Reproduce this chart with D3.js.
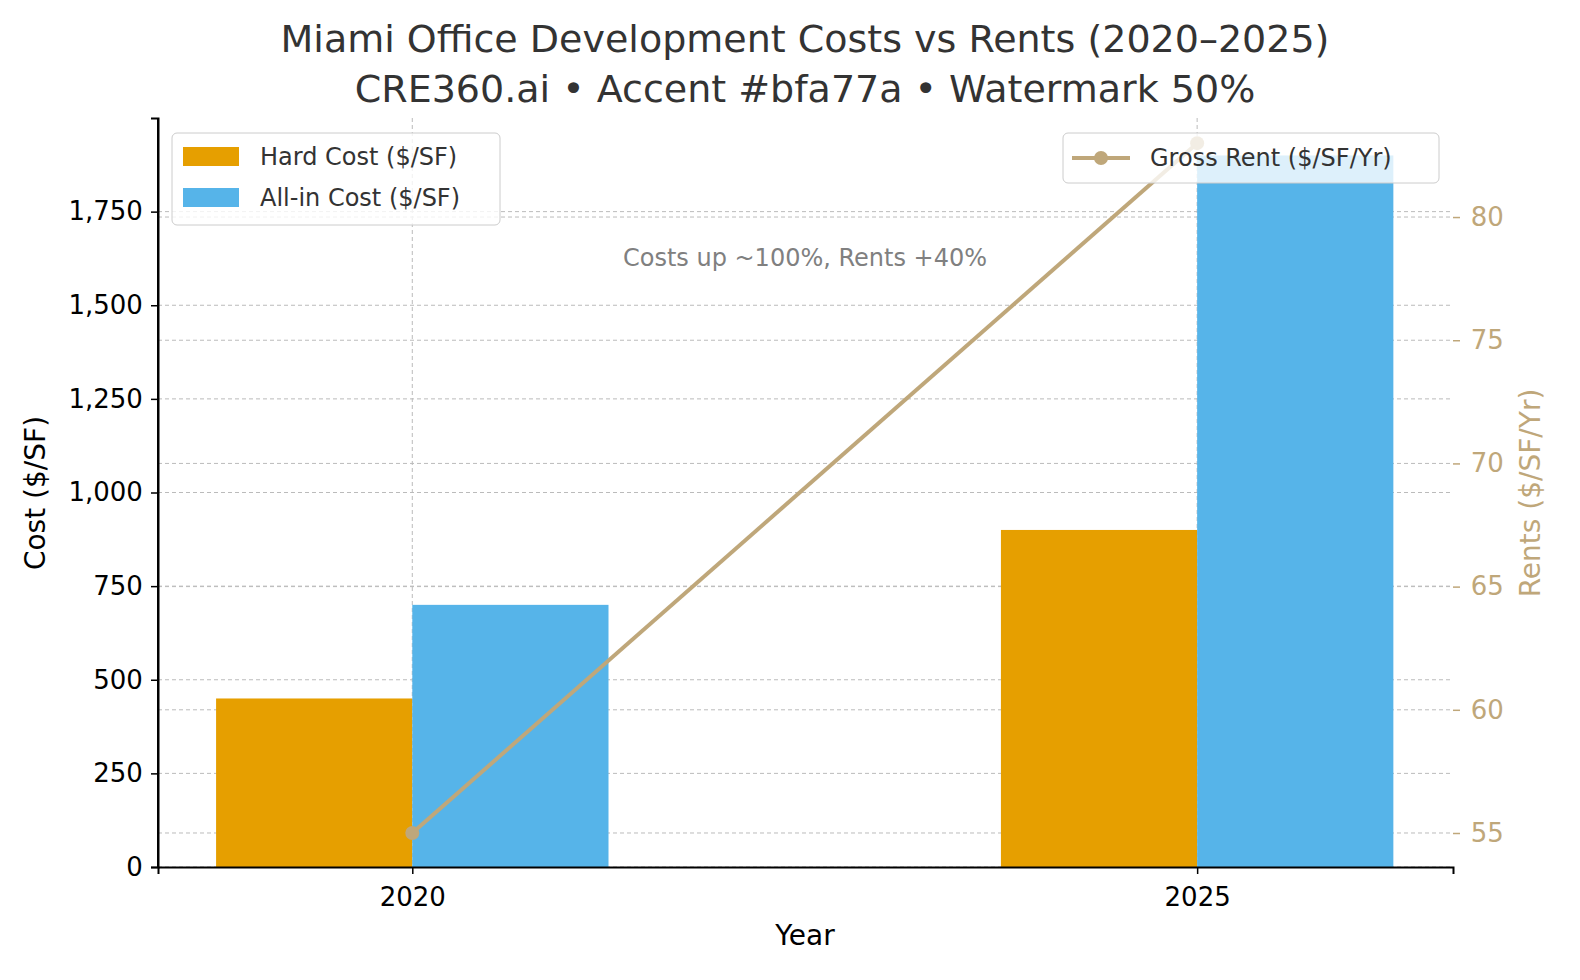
<!DOCTYPE html>
<html><head><meta charset="utf-8">
<script src="https://cdn.jsdelivr.net/npm/d3@7"></script>
<style>body{margin:0;background:#fff;font-family:"DejaVu Sans",sans-serif}</style>
</head><body><div id="chart"></div>
<script>
const years = [2020, 2025];
const hardCost = [450, 900];
const allInCost = [700, 1900];
const grossRent = [55, 83];
const costTicks = [0, 250, 500, 750, 1000, 1250, 1500, 1750];
const rentTicks = [55, 60, 65, 70, 75, 80];

const W = 1580, H = 980;
const L = 158, R = 1453, T = 118, B = 867;
const accent = "#bfa77a";
const svg = d3.select("#chart").append("svg").attr("width", W).attr("height", H);

const x = d3.scaleLinear().domain([2018.38, 2026.63]).range([L, R]);
const y = d3.scaleLinear().domain([0, 2000]).range([B, T]);
const y2 = d3.scaleLinear().domain([53.62, 84.02]).range([B, T]);
const bw = x(2021.25) - x(2020);

// grids
const grid = svg.append("g").attr("stroke", "#bbb").attr("stroke-dasharray", "4,3").attr("stroke-width", 1);
costTicks.forEach(t => grid.append("line").attr("x1", L).attr("x2", R).attr("y1", y(t)).attr("y2", y(t)));
rentTicks.forEach(t => grid.append("line").attr("x1", L).attr("x2", R).attr("y1", y2(t)).attr("y2", y2(t)));
years.forEach(t => grid.append("line").attr("x1", x(t)).attr("x2", x(t)).attr("y1", T).attr("y2", B));

// bars
svg.selectAll(".hard").data(years).enter().append("rect")
  .attr("x", d => x(d) - bw).attr("width", bw)
  .attr("y", (d, i) => y(hardCost[i])).attr("height", (d, i) => B - y(hardCost[i]))
  .attr("fill", "#E69F00");
svg.selectAll(".allin").data(years).enter().append("rect")
  .attr("x", d => x(d)).attr("width", bw)
  .attr("y", (d, i) => y(allInCost[i])).attr("height", (d, i) => B - y(allInCost[i]))
  .attr("fill", "#56B4E9");

// rent line
svg.append("path").datum(years)
  .attr("fill", "none").attr("stroke", accent).attr("stroke-width", 4)
  .attr("d", d3.line().x(d => x(d)).y((d, i) => y2(grossRent[i])));
svg.selectAll(".pt").data(years).enter().append("circle")
  .attr("cx", d => x(d)).attr("cy", (d, i) => y2(grossRent[i])).attr("r", 7).attr("fill", accent);

// axes
const fs = "26px";
const ax = svg.append("g").attr("transform", `translate(0,${B})`)
  .call(d3.axisBottom(x).tickValues(years).tickFormat(d3.format("d")).tickSizeOuter(0).tickSize(7));
const ay = svg.append("g").attr("transform", `translate(${L},0)`)
  .call(d3.axisLeft(y).tickValues(costTicks).tickSizeOuter(0).tickSize(7));
const ay2 = svg.append("g").attr("transform", `translate(${R},0)`)
  .call(d3.axisRight(y2).tickValues(rentTicks).tickSizeOuter(0).tickSize(7));
[ax, ay, ay2].forEach(g => { g.selectAll("text").style("font-size", fs).style("font-family", "DejaVu Sans"); g.select(".domain").attr("stroke-width", 2); g.selectAll(".tick line").attr("stroke-width", 1.5); });
ax.selectAll("text").attr("dy", "1.1em");
ay.selectAll("text").attr("dx", "-0.2em");
ay2.selectAll("text").attr("fill", accent).attr("dx", "0.3em");
ay2.select(".domain").attr("stroke", "none");
ay2.selectAll(".tick line").attr("stroke", accent);
svg.append("line").attr("x1", L).attr("x2", L).attr("y1", T).attr("y2", B).attr("stroke", "#000").attr("stroke-width", 2);

// labels
svg.append("text").attr("x", 805).attr("y", 945).attr("text-anchor", "middle").style("font-size", "28px").text("Year");
svg.append("text").attr("transform", "translate(45,493) rotate(-90)").attr("text-anchor", "middle").style("font-size", "28px").text("Cost ($/SF)");
svg.append("text").attr("transform", "translate(1540,493) rotate(-90)").attr("text-anchor", "middle").style("font-size", "28px").attr("fill", accent).text("Rents ($/SF/Yr)");
svg.append("text").attr("x", 805).attr("y", 52).attr("text-anchor", "middle").style("font-size", "38px").attr("fill", "#333").text("Miami Office Development Costs vs Rents (2020–2025)");
svg.append("text").attr("x", 805).attr("y", 102).attr("text-anchor", "middle").style("font-size", "38px").attr("fill", "#333").text("CRE360.ai • Accent #bfa77a • Watermark 50%");
svg.append("text").attr("x", 805).attr("y", 266).attr("text-anchor", "middle").style("font-size", "24px").attr("fill", "#808080").text("Costs up ~100%, Rents +40%");

// legends
const lg = svg.append("g");
lg.append("rect").attr("x", 172).attr("y", 133).attr("width", 328).attr("height", 92).attr("rx", 5).attr("fill", "#fff").attr("fill-opacity", 0.8).attr("stroke", "#ccc");
[["Hard Cost ($/SF)", "#E69F00"], ["All-in Cost ($/SF)", "#56B4E9"]].forEach(([t, c], i) => {
  lg.append("rect").attr("x", 183).attr("y", 147 + i * 41).attr("width", 56).attr("height", 19).attr("fill", c);
  lg.append("text").attr("x", 260).attr("y", 165 + i * 41).style("font-size", "24px").attr("fill", "#333").text(t);
});
const lg2 = svg.append("g");
lg2.append("rect").attr("x", 1063).attr("y", 133).attr("width", 376).attr("height", 50).attr("rx", 5).attr("fill", "#fff").attr("fill-opacity", 0.8).attr("stroke", "#ccc");
lg2.append("line").attr("x1", 1072).attr("x2", 1130).attr("y1", 158).attr("y2", 158).attr("stroke", accent).attr("stroke-width", 4);
lg2.append("circle").attr("cx", 1101).attr("cy", 158).attr("r", 7).attr("fill", accent);
lg2.append("text").attr("x", 1150).attr("y", 166).style("font-size", "24px").attr("fill", "#333").text("Gross Rent ($/SF/Yr)");
</script></body></html>
